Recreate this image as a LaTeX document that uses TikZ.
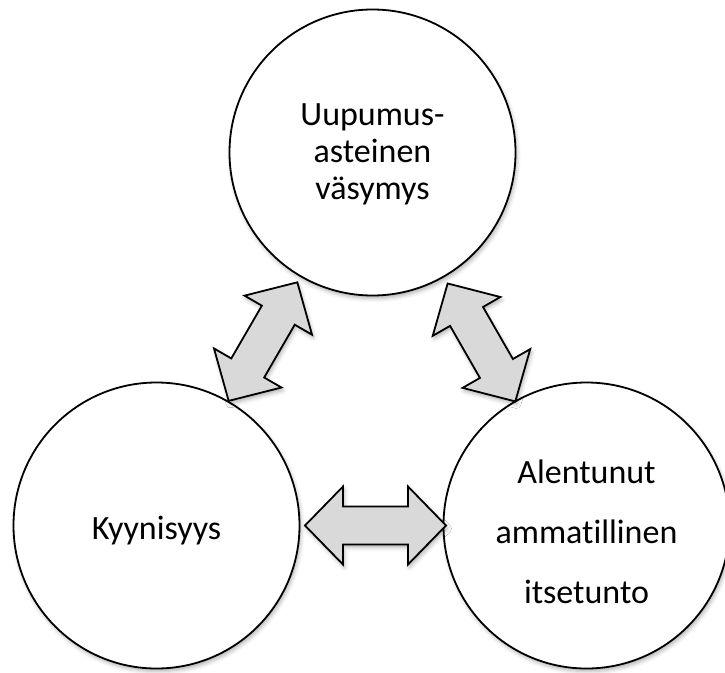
\documentclass[tikz,border=0pt]{standalone}
\usepackage{fontspec}
\setmainfont{Carlito}[Ligatures={NoCommon}]
\usetikzlibrary{calc,shadows.blur}

\definecolor{linkgray}{HTML}{D9D9D9}

% block arrow geometry (in px-like points)
\newcommand\headlen{38}
\newcommand\headhw{39}
\newcommand\shafthw{19}

\tikzset{
  softshadow/.style={blur shadow={shadow xshift=1.5pt, shadow yshift=-3pt,
      shadow blur radius=4pt, shadow opacity=30}},
  factor/.style={circle, draw=black, line width=1.8pt, fill=white,
      minimum size=286pt, inner sep=0pt, softshadow},
  caption/.style={align=center, inner sep=0pt},
  link/.style={draw=black, line width=1.8pt, fill=linkgray,
      line join=miter, softshadow},
}

% double-headed block arrow on the axis between two nodes;
% #3 and #4 are the distances of its tips from node #1
\newcommand\linkarrow[5]{%
  \pgfmathanglebetweenpoints{\pgfpointanchor{#1}{center}}{\pgfpointanchor{#2}{center}}%
  \let\linkangle\pgfmathresult
  \begin{scope}[shift={(#1)}, rotate=\linkangle]
    \coordinate (#5-1) at (#3,0);
    \coordinate (#5-2) at ({#3+\headlen},\headhw);
    \coordinate (#5-3) at ({#3+\headlen},\shafthw);
    \coordinate (#5-4) at ({#4-\headlen},\shafthw);
    \coordinate (#5-5) at ({#4-\headlen},\headhw);
    \coordinate (#5-6) at (#4,0);
    \coordinate (#5-7) at ({#4-\headlen},-\headhw);
    \coordinate (#5-8) at ({#4-\headlen},-\shafthw);
    \coordinate (#5-9) at ({#3+\headlen},-\shafthw);
    \coordinate (#5-10) at ({#3+\headlen},-\headhw);
  \end{scope}
  \draw[link] (#5-1) -- (#5-2) -- (#5-3) -- (#5-4) -- (#5-5) -- (#5-6)
    -- (#5-7) -- (#5-8) -- (#5-9) -- (#5-10) -- cycle;
}

\begin{document}
\begin{tikzpicture}[x=1pt, y=-1pt]
  \useasboundingbox (0,0) rectangle (725,672);

  % the three factors
  \node[factor] (fatigue) at (372.5,152.5) {};
  \node[factor] (cynic) at (156.5,525.5) {};
  \node[factor] (esteem) at (586.5,525.5) {};

  \node[caption, font=\fontsize{34}{37}\selectfont] (fatigue-text)
    at ([yshift=-2pt]fatigue.center) {Uupumus-\\asteinen\\väsymys};
  \node[caption, font=\fontsize{34}{37}\selectfont] (cynic-text)
    at ([yshift=-5pt]cynic.center) {Kyynisyys};
  \node[caption, font=\fontsize{34}{60}\selectfont] (esteem-text)
    at ([yshift=-6pt]esteem.center) {Alentunut\\ammatillinen\\itsetunto};

  % mutual links
  \linkarrow{fatigue}{cynic}{150}{287}{fc}
  \linkarrow{fatigue}{esteem}{151}{287}{fe}
  \linkarrow{cynic}{esteem}{148.5}{289.5}{ce}
\end{tikzpicture}
\end{document}
